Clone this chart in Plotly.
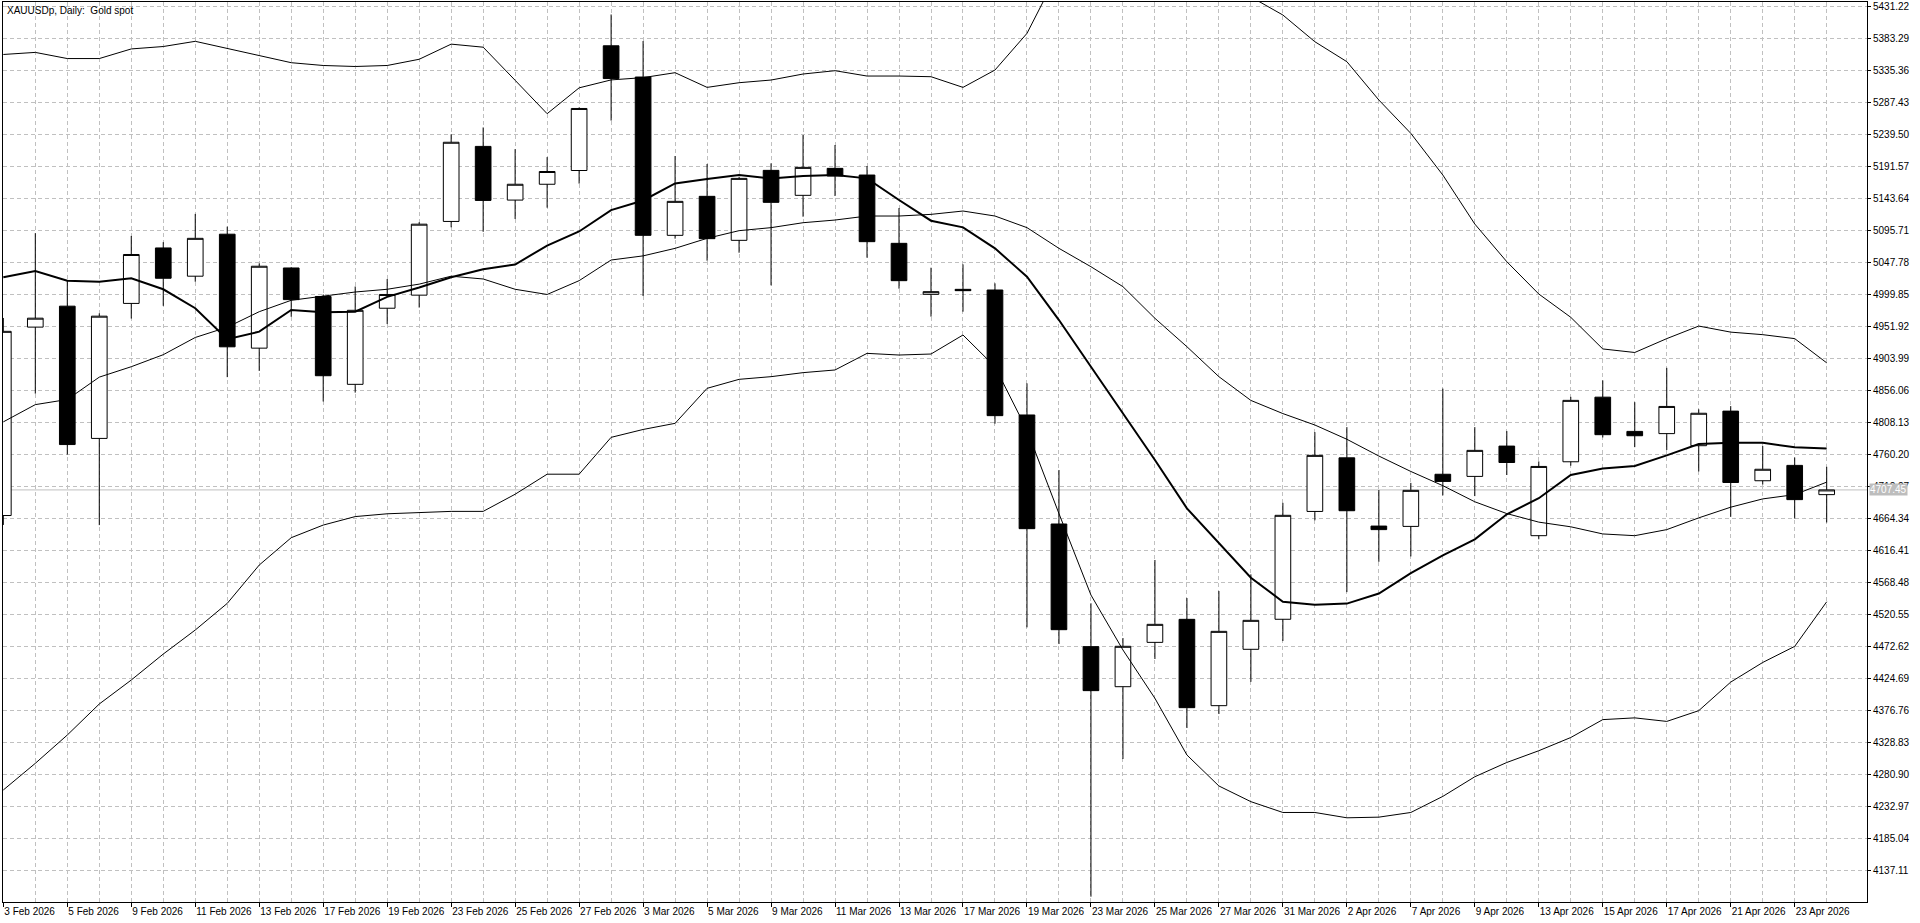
import plotly.graph_objects as go

# --- data (XAUUSDp daily) ---
dates = [
    "3 Feb 2026", "4 Feb 2026", "5 Feb 2026", "6 Feb 2026", "9 Feb 2026", "10 Feb 2026",
    "11 Feb 2026", "12 Feb 2026", "13 Feb 2026", "16 Feb 2026", "17 Feb 2026", "18 Feb 2026",
    "19 Feb 2026", "20 Feb 2026", "23 Feb 2026", "24 Feb 2026", "25 Feb 2026", "26 Feb 2026",
    "27 Feb 2026", "2 Mar 2026", "3 Mar 2026", "4 Mar 2026", "5 Mar 2026", "6 Mar 2026",
    "9 Mar 2026", "10 Mar 2026", "11 Mar 2026", "12 Mar 2026", "13 Mar 2026", "16 Mar 2026",
    "17 Mar 2026", "18 Mar 2026", "19 Mar 2026", "20 Mar 2026", "23 Mar 2026", "24 Mar 2026",
    "25 Mar 2026", "26 Mar 2026", "27 Mar 2026", "30 Mar 2026", "31 Mar 2026", "1 Apr 2026",
    "2 Apr 2026", "6 Apr 2026", "7 Apr 2026", "8 Apr 2026", "9 Apr 2026", "10 Apr 2026",
    "13 Apr 2026", "14 Apr 2026", "15 Apr 2026", "16 Apr 2026", "17 Apr 2026", "20 Apr 2026",
    "21 Apr 2026", "22 Apr 2026", "23 Apr 2026", "24 Apr 2026",
]

opens = [
    4669.1, 4951.3, 4982.7, 4784.6, 4986.8, 5069.9, 5027.6, 5090.5, 4919.8, 5039.9,
    4997.2, 4865.6, 4979.6, 4999.2, 5109.6, 5222.0, 5141.6, 5165.3, 5185.9, 5372.7,
    5325.9, 5088.8, 5147.2, 5081.3, 5186.1, 5148.7, 5189.1, 5179.1, 5076.8, 5000.4,
    5007.9, 5006.9, 4819.7, 4656.4, 4472.7, 4412.7, 4479.1, 4513.6, 4384.3, 4468.7,
    4513.7, 4675.2, 4755.5, 4653.3, 4652.8, 4730.9, 4727.7, 4773.1, 4638.9, 4749.6,
    4846.4, 4795.1, 4791.8, 4773.7, 4825.5, 4721.2, 4744.2, 4700.4,
]
highs = [
    4965.0, 5092.0, 5020.9, 4971.9, 5087.9, 5078.6, 5120.9, 5101.8, 5046.7, 5041.0,
    5000.2, 5012.1, 5023.4, 5108.5, 5240.1, 5250.4, 5217.9, 5206.0, 5280.3, 5419.6,
    5379.9, 5207.6, 5195.6, 5176.0, 5196.6, 5239.0, 5224.1, 5192.6, 5129.7, 5040.3,
    5045.3, 5016.9, 4867.1, 4737.3, 4537.6, 4485.6, 4602.5, 4545.5, 4556.0, 4581.0,
    4688.1, 4794.0, 4801.5, 4707.3, 4718.0, 4859.2, 4801.5, 4795.6, 4750.1, 4846.9,
    4871.5, 4838.9, 4890.3, 4828.2, 4833.0, 4773.1, 4756.0, 4742.1,
]
lows = [
    4655.0, 4851.7, 4760.4, 4654.7, 4964.1, 4983.2, 5019.3, 4876.4, 4885.7, 4966.7,
    4839.9, 4853.2, 4955.9, 4980.6, 5100.8, 5094.1, 5113.2, 5130.2, 5166.3, 5260.7,
    4997.9, 5083.8, 5050.8, 5062.8, 5013.9, 5116.7, 5147.7, 5055.3, 5008.9, 4967.0,
    4974.4, 4806.7, 4501.6, 4476.6, 4098.2, 4304.4, 4454.2, 4350.8, 4371.8, 4420.0,
    4481.1, 4661.9, 4554.4, 4599.8, 4607.8, 4699.3, 4698.2, 4729.8, 4633.5, 4743.7,
    4786.0, 4771.5, 4767.2, 4735.1, 4667.2, 4715.4, 4664.5, 4658.7,
]
closes = [
    4945.0, 4964.7, 4775.4, 4967.7, 5060.1, 5024.5, 5084.3, 4921.8, 5042.5, 4992.5,
    4878.5, 4976.5, 5000.2, 5105.5, 5228.2, 5141.1, 5165.3, 5184.4, 5278.8, 5323.6,
    5088.8, 5139.7, 5083.8, 5174.1, 5138.2, 5190.6, 5177.6, 5079.3, 5020.9, 5004.4,
    5005.9, 4818.7, 4649.4, 4498.1, 4406.8, 4473.2, 4506.1, 4381.3, 4495.6, 4512.1,
    4669.4, 4759.2, 4676.3, 4648.0, 4706.8, 4720.2, 4766.7, 4748.5, 4742.6, 4841.6,
    4790.2, 4788.6, 4832.5, 4822.3, 4718.6, 4738.4, 4692.9, 4707.45,
]

# thick moving average
ma_fast = [
    5026.0, 5035.3, 5020.9, 5019.3, 5024.5, 5008.0, 4979.6, 4933.2, 4944.5, 4977.0,
    4973.4, 4974.4, 4996.6, 5010.6, 5026.0, 5037.9, 5045.1, 5073.5, 5094.6, 5126.6,
    5141.0, 5166.6, 5173.1, 5179.1, 5174.1, 5177.6, 5179.1, 5174.1, 5141.7, 5110.7,
    5100.7, 5069.3, 5026.8, 4961.9, 4892.0, 4822.2, 4752.3, 4679.8, 4627.4, 4576.0,
    4539.9, 4535.6, 4537.2, 4552.2, 4582.7, 4609.4, 4633.5, 4670.9, 4695.0, 4729.8,
    4739.4, 4743.2, 4759.2, 4776.3, 4778.0, 4778.0, 4771.5, 4769.4,
]

# Bollinger bands
bb_mid = [
    4809.4, 4835.2, 4842.9, 4876.4, 4892.0, 4910.0, 4935.8, 4951.2, 4974.4, 4991.5,
    4997.7, 5003.9, 5008.0, 5015.7, 5027.6, 5023.4, 5008.0, 5000.2, 5020.9, 5051.8,
    5058.0, 5069.3, 5084.3, 5095.8, 5100.3, 5107.7, 5111.7, 5117.7, 5117.7, 5120.2,
    5125.2, 5117.7, 5100.3, 5069.3, 5041.8, 5011.9, 4964.5, 4922.0, 4877.1, 4841.5,
    4821.8, 4804.7, 4783.3, 4758.2, 4735.1, 4713.8, 4689.7, 4672.0, 4659.2, 4652.2,
    4641.5, 4638.9, 4648.0, 4665.6, 4681.6, 4694.0, 4700.4, 4719.1,
]
bb_upper = [
    5359.7, 5362.8, 5353.6, 5353.6, 5368.0, 5371.6, 5379.4, 5369.0, 5358.7, 5347.4,
    5343.2, 5341.7, 5343.2, 5352.5, 5375.2, 5370.6, 5321.0, 5271.0, 5309.7, 5321.6,
    5325.0, 5332.4, 5310.4, 5317.4, 5321.4, 5330.4, 5335.4, 5327.4, 5327.4, 5326.4,
    5310.4, 5336.4, 5391.3, 5485.0, 5540.0, 5570.0, 5575.0, 5550.0, 5500.0, 5446.0,
    5418.8, 5378.8, 5348.9, 5291.5, 5241.5, 5179.1, 5105.7, 5049.3, 5000.9, 4966.0,
    4918.6, 4913.3, 4934.1, 4952.9, 4943.8, 4940.0, 4934.1, 4897.8,
]
bb_lower = [
    4258.0, 4297.9, 4340.3, 4386.8, 4422.7, 4461.6, 4497.6, 4537.5, 4594.9, 4635.9,
    4654.8, 4667.5, 4671.7, 4673.7, 4675.3, 4675.3, 4701.0, 4731.0, 4731.0, 4786.2,
    4798.0, 4807.2, 4859.6, 4873.1, 4877.1, 4883.1, 4887.1, 4912.0, 4909.5, 4911.0,
    4939.5, 4892.0, 4797.0, 4672.0, 4550.0, 4467.7, 4395.3, 4310.4, 4264.0, 4240.5,
    4224.3, 4224.3, 4216.3, 4217.3, 4224.3, 4248.4, 4277.8, 4299.2, 4316.8, 4336.6,
    4363.4, 4366.0, 4360.7, 4376.8, 4419.6, 4449.0, 4473.1, 4539.9,
]

price_ticks = [
    5431.22, 5383.29, 5335.36, 5287.43, 5239.50, 5191.57, 5143.64, 5095.71, 5047.78,
    4999.85, 4951.92, 4903.99, 4856.06, 4808.13, 4760.20, 4712.27, 4664.34, 4616.41,
    4568.48, 4520.55, 4472.62, 4424.69, 4376.76, 4328.83, 4280.90, 4232.97, 4185.04,
    4137.11,
]
last_price = 4707.45

bars = list(range(len(dates)))
label_bars = bars[::2]
label_text = dates[::2]

GRID = "#c0c0c0"
FONT = "Liberation Sans"

fig = go.Figure()

fig.add_trace(go.Candlestick(
    x=bars, open=opens, high=highs, low=lows, close=closes,
    increasing=dict(line=dict(color="black", width=1), fillcolor="white"),
    decreasing=dict(line=dict(color="black", width=1), fillcolor="black"),
    whiskerwidth=0, showlegend=False, hoverinfo="skip",
))

for band in (bb_upper, bb_mid, bb_lower):
    fig.add_trace(go.Scatter(x=bars, y=band, mode="lines",
                             line=dict(color="black", width=1),
                             showlegend=False, hoverinfo="skip"))

fig.add_trace(go.Scatter(x=bars, y=ma_fast, mode="lines",
                         line=dict(color="black", width=2),
                         showlegend=False, hoverinfo="skip"))

# last price line + label
fig.add_shape(type="line", xref="paper", x0=0, x1=1, yref="y",
              y0=last_price, y1=last_price, layer="below",
              line=dict(color=GRID, width=1))
fig.add_annotation(x=1, xref="paper", y=last_price, yref="y",
                   xanchor="left", yanchor="middle", xshift=2,
                   text=f"{last_price:.2f}", showarrow=False,
                   bgcolor="#bdbdbd", borderpad=0,
                   font=dict(family=FONT, size=10, color="white"))

fig.add_annotation(x=0, xref="paper", y=1, yref="paper",
                   xanchor="left", yanchor="top", xshift=2, yshift=-1,
                   text="XAUUSDp, Daily:\u00a0 Gold spot", showarrow=False,
                   font=dict(family=FONT, size=10, color="black"))

fig.update_layout(
    width=1920, height=923,
    margin=dict(l=3, r=53, t=2, b=21),
    paper_bgcolor="white", plot_bgcolor="white",
    font=dict(family=FONT, size=10, color="black"),
    showlegend=False,
)

fig.update_xaxes(
    range=[-0.01, 58.26],
    rangeslider_visible=False,
    tickmode="array", tickvals=label_bars, ticktext=label_text,
    ticklabelposition="outside right", tickangle=0,
    ticks="outside", ticklen=4, tickcolor="black", tickwidth=1,
    showgrid=True, gridcolor=GRID, griddash="4px,3px", gridwidth=1,
    minor=dict(tickmode="array", tickvals=bars, showgrid=True,
               gridcolor=GRID, griddash="4px,3px", gridwidth=1, ticks=""),
    showline=True, linecolor="black", linewidth=1, mirror=True,
    zeroline=False, automargin=False,
)

fig.update_yaxes(
    range=[4090.2, 5438.3],
    side="right",
    tickmode="array", tickvals=price_ticks,
    ticktext=[f"{v:.2f}" for v in price_ticks],
    ticks="outside", ticklen=3, tickcolor="black", tickwidth=1,
    showgrid=True, gridcolor=GRID, griddash="4px,3px", gridwidth=1,
    showline=True, linecolor="black", linewidth=1, mirror=True,
    zeroline=False, automargin=False,
)

fig.write_html("out.html",
               config={"displayModeBar": False},
               post_script="document.body.style.margin='0';"
                           "document.body.style.overflow='hidden';")
